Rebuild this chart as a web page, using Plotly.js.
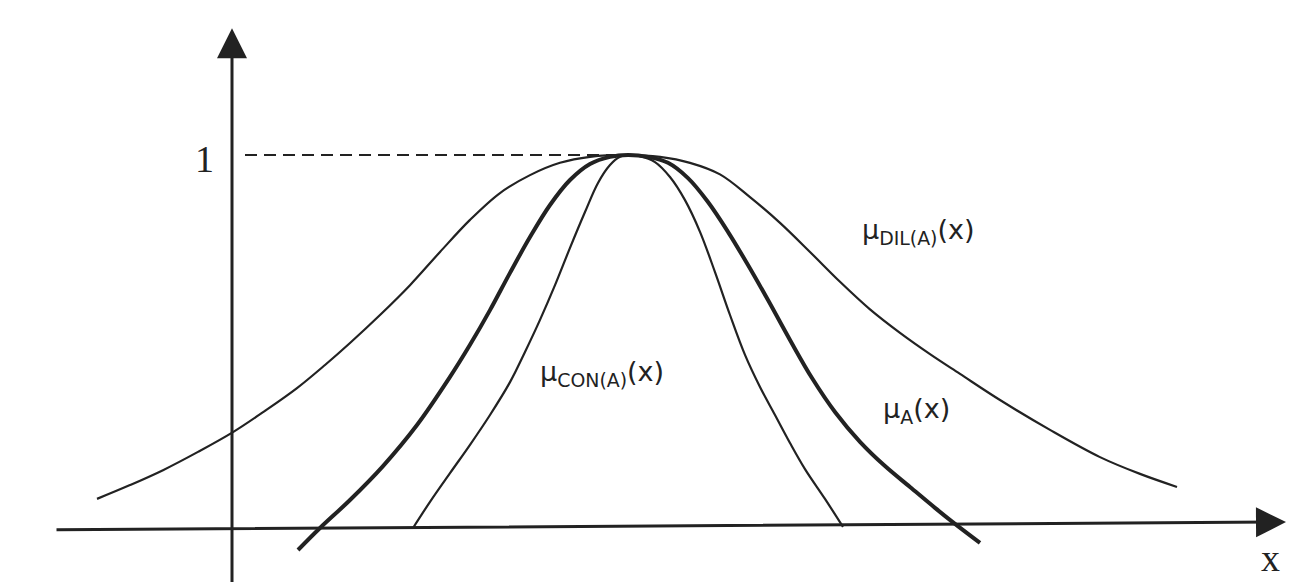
<!DOCTYPE html>
<html>
<head>
<meta charset="utf-8">
<script src="https://cdn.plot.ly/plotly-3.0.1.min.js"></script>
<style>html,body{margin:0;padding:0;background:#fff;}#chart{width:1315px;height:582px;}</style>
</head>
<body>
<div id="chart"></div>
<script>
// Dilation mu_DIL(A)(x) - thin wide curve
const dilX = [-1.35, -1.02, -0.69, -0.34, 0.01, 0.33, 0.65, 0.93, 1.18, 1.48, 1.78, 2.08, 2.38, 2.68, 2.98, 3.28, 3.58, 3.96,
              4.28, 4.58, 4.88, 5.18, 5.48, 5.78, 6.08, 6.38, 6.68, 6.98, 7.28, 7.68, 8.18, 8.68, 9.08, 9.45];
const dilY = [0.078, 0.115, 0.155, 0.204, 0.257, 0.314, 0.375, 0.437, 0.496, 0.571, 0.651, 0.740, 0.826, 0.898, 0.946, 0.979, 0.995, 1.000,
              0.995, 0.979, 0.948, 0.887, 0.818, 0.740, 0.660, 0.586, 0.523, 0.466, 0.413, 0.343, 0.263, 0.190, 0.145, 0.110];

// Original mu_A(x) - bold curve
const aX = [0.66, 0.88, 1.18, 1.51, 1.85, 2.18, 2.38, 2.58, 2.78, 2.98, 3.18, 3.38, 3.58, 3.78, 3.96,
            4.16, 4.36, 4.56, 4.76, 4.96, 5.16, 5.36, 5.58, 5.80, 6.03, 6.28, 6.53, 6.78, 7.03, 7.23, 7.48];
const aY = [-0.059, 0.000, 0.075, 0.166, 0.276, 0.405, 0.491, 0.584, 0.684, 0.780, 0.866, 0.933, 0.976, 0.995, 1.000,
            0.995, 0.979, 0.938, 0.874, 0.794, 0.705, 0.611, 0.504, 0.402, 0.311, 0.231, 0.166, 0.110, 0.054, 0.011, -0.040];

// Concentration mu_CON(A)(x) - thin narrow curve
const conX = [1.81, 1.98, 2.18, 2.38, 2.58, 2.78, 2.93, 3.08, 3.23, 3.38, 3.53, 3.66, 3.78, 3.88, 3.96,
              4.08, 4.23, 4.38, 4.53, 4.68, 4.83, 4.98, 5.13, 5.28, 5.43, 5.58, 5.73, 5.93, 6.11];
const conY = [0.000, 0.070, 0.147, 0.223, 0.303, 0.391, 0.472, 0.558, 0.651, 0.751, 0.847, 0.925, 0.973, 0.995, 1.000,
              0.997, 0.981, 0.941, 0.879, 0.794, 0.686, 0.571, 0.464, 0.378, 0.303, 0.228, 0.158, 0.078, 0.003];

// Reference level and labels
const peakX = 3.96;
const peakY = 1.0;
const yTickLabel = "1";
const xAxisLabel = "x";
const labelDil = "\u03bc<sub>DIL(A)</sub>(x)";
const labelCon = "\u03bc<sub>CON(A)</sub>(x)";
const labelA = "\u03bc<sub>A</sub>(x)";

const ink = '#222222';

const traces = [
  {x: dilX, y: dilY, type: 'scatter', mode: 'lines', line: {color: ink, width: 2.2, shape: 'spline', smoothing: 1}, hoverinfo: 'skip'},
  {x: conX, y: conY, type: 'scatter', mode: 'lines', line: {color: ink, width: 2.2, shape: 'spline', smoothing: 1}, hoverinfo: 'skip'},
  {x: aX, y: aY, type: 'scatter', mode: 'lines', line: {color: ink, width: 4, shape: 'spline', smoothing: 1}, hoverinfo: 'skip'},
  {x: [0.13, peakX], y: [peakY, peakY], type: 'scatter', mode: 'lines', line: {color: ink, width: 2, dash: '12px,7px'}, hoverinfo: 'skip'}
];

const labelFont = {family: '"DejaVu Sans", sans-serif', size: 27, color: ink};

const layout = {
  width: 1315, height: 582,
  margin: {l: 0, r: 0, t: 0, b: 0},
  paper_bgcolor: '#ffffff', plot_bgcolor: '#ffffff',
  showlegend: false,
  xaxis: {range: [-2.32, 10.83], visible: false, showgrid: false, zeroline: false},
  yaxis: {range: [-0.1448, 1.4155], visible: false, showgrid: false, zeroline: false},
  annotations: [
    // y axis arrow
    {x: 0, y: 1.34, ax: 0, ay: -0.25, xref: 'x', yref: 'y', axref: 'x', ayref: 'y', text: '', showarrow: true, arrowhead: 2, arrowsize: 2, arrowwidth: 3, arrowcolor: ink, standoff: 0},
    // x axis arrow
    {x: 10.54, y: 0.016, ax: -1.77, ay: -0.005, xref: 'x', yref: 'y', axref: 'x', ayref: 'y', text: '', showarrow: true, arrowhead: 2, arrowsize: 2, arrowwidth: 3, arrowcolor: ink, standoff: 0},
    {x: -0.28, y: 0.99, xref: 'x', yref: 'y', text: yTickLabel, showarrow: false, font: {family: '"Liberation Serif", serif', size: 38, color: ink}, xanchor: 'center', yanchor: 'middle'},
    {x: 10.38, y: -0.080, xref: 'x', yref: 'y', text: xAxisLabel, showarrow: false, font: {family: '"Liberation Serif", serif', size: 38, color: ink}, xanchor: 'center', yanchor: 'middle'},
    {x: 6.28, y: 0.794, xref: 'x', yref: 'y', text: labelDil, showarrow: false, font: labelFont, xanchor: 'left', yanchor: 'middle'},
    {x: 3.06, y: 0.413, xref: 'x', yref: 'y', text: labelCon, showarrow: false, font: labelFont, xanchor: 'left', yanchor: 'middle'},
    {x: 6.49, y: 0.314, xref: 'x', yref: 'y', text: labelA, showarrow: false, font: labelFont, xanchor: 'left', yanchor: 'middle'}
  ]
};

Plotly.newPlot('chart', traces, layout, {staticPlot: true, displayModeBar: false});
</script>
</body>
</html>
